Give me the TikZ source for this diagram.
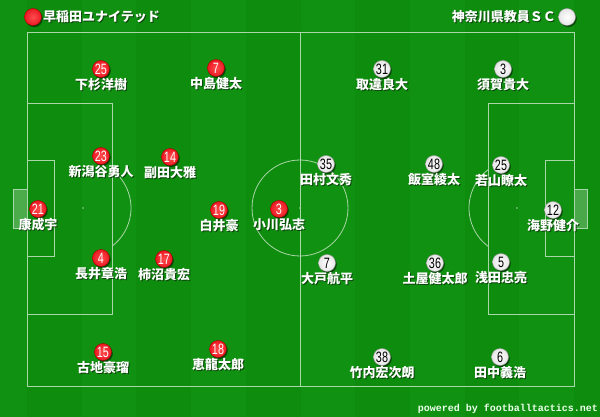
\documentclass[tikz,border=0pt]{standalone}
\usepackage{fontspec}
\usepackage{graphicx}
\setmainfont{Noto Sans CJK JP}
\newfontfamily\monof{Liberation Mono}
\newfontfamily\numf{Liberation Sans}
\usetikzlibrary{shadows,calc}
\definecolor{grassA}{RGB}{14,140,14}
\definecolor{grassB}{RGB}{17,145,17}
\definecolor{lineC}{RGB}{170,215,170}
\definecolor{redM}{RGB}{235,25,35}
\definecolor{txtShadow}{RGB}{10,50,10}
\begin{document}
\begin{tikzpicture}[x=1pt,y=-1pt,
  pline/.style={draw=lineC, line width=0.8pt},
  ballbase/.style={circle, inner sep=0pt, minimum size=17pt,
    font=\numf\fontsize{15}{15}\selectfont,
    drop shadow={shadow xshift=1.3pt, shadow yshift=-1.6pt, opacity=0.5, fill=black}},
  redball/.style={ballbase, shading=radial, inner color=red!70!white, outer color=redM, draw=red!65!black, line width=0.4pt, text=white},
  whiteball/.style={ballbase, shading=radial, inner color=white, outer color=white!90!black, draw=white!60!black, line width=0.4pt, text=black},
  nametext/.style={inner sep=0pt, text=white, font=\bfseries\fontsize{13}{13}\selectfont},
  nameshadow/.style={inner sep=0pt, text=txtShadow, opacity=0.8, font=\bfseries\fontsize{13}{13}\selectfont},
  spot/.style={fill=lineC, circle, inner sep=0pt, minimum size=1.6pt}
]
\useasboundingbox (0,0) rectangle (600,417);
% grass
\fill[grassA] (0,0) rectangle (600,417);
\foreach \k in {-1,1,3,5,7,9}{
  \fill[grassB] ({27+54.7*\k},0) rectangle ({27+54.7*(\k+1)},417);
}
% pitch lines
\draw[pline] (27,32) rectangle (574,386);
\draw[pline] (300,32) -- (300,386);
\draw[pline] (300,208) circle (48);
\node[spot] (cspot) at (300,208) {};
% left
\draw[pline] (27,103) rectangle (112,314);
\draw[pline] (27,160) rectangle (54.5,256);
\draw[pline, fill=white, fill opacity=0.25] (13.5,189) rectangle (27,228);
\node[spot] (lspot) at (83,208) {};
\draw[pline] ($(83,208)+(-52.8:48)$) arc[start angle=-52.8, end angle=52.8, radius=48];
% right
\draw[pline] (488,103) rectangle (574,314);
\draw[pline] (545.5,160) rectangle (574,256);
\draw[pline, fill=white, fill opacity=0.25] (574,189) rectangle (587,228);
\node[spot] (rspot) at (517,208) {};
\draw[pline] ($(517,208)+(127.2:48)$) arc[start angle=127.2, end angle=232.8, radius=48];
% header
\node[redball] (homeball) at (33,17) {};
\node[nameshadow, anchor=west] at (44,18) {早稲田ユナイテッド};
\node[nametext, anchor=west] (home) at (43,17) {早稲田ユナイテッド};
\node[nameshadow, anchor=east] at (557,18) {神奈川県教員ＳＣ};
\node[nametext, anchor=east] (away) at (556,17) {神奈川県教員ＳＣ};
\node[whiteball] (awayball) at (567,17) {};
% red players
\foreach \id/\x/\y/\n/\nm in {
  r25/101/69/25/下杉洋樹,
  r7/216/68/7/中島健太,
  r23/101/156/23/新潟谷勇人,
  r14/170/157/14/副田大雅,
  r21/38/209/21/康成宇,
  r19/219/210/19/白井豪,
  r3/279/209/3/小川弘志,
  r4/101/258/4/長井章浩,
  r17/164/259/17/柿沼貴宏,
  r15/103/352/15/古地豪瑠,
  r18/218/349/18/恵龍太郎}{
  \node[redball] (\id) at (\x,\y) {\scalebox{0.72}[1]{\n}};
  \node[nameshadow] at ({\x+1},{\y+17}) {\nm};
  \node[nametext] (\id n) at (\x,{\y+16}) {\nm};
}
% white players
\foreach \id/\x/\y/\n/\nm in {
  w31/382/69/31/取違良大,
  w3/503/69/3/須賀貴大,
  w35/326/164/35/田村文秀,
  w48/434/164/48/飯室綾太,
  w25/501/165/25/若山瞭太,
  w12/553/210/12/海野健介,
  w7/327/263/7/大戸航平,
  w36/435/263/36/土屋健太郎,
  w5/501/262/5/浅田忠亮,
  w38/382/357/38/竹内宏次朗,
  w6/500/357/6/田中義浩}{
  \node[whiteball] (\id) at (\x,\y) {\scalebox{0.72}[1]{\n}};
  \node[nameshadow] at ({\x+1},{\y+17}) {\nm};
  \node[nametext] (\id n) at (\x,{\y+16}) {\nm};
}
% credit
\node[anchor=east, inner sep=0pt, text=white!92!green, font=\monof\bfseries\fontsize{10}{10}\selectfont] (credit) at (598,409) {powered by footballtactics.net};
\end{tikzpicture}
\end{document}
